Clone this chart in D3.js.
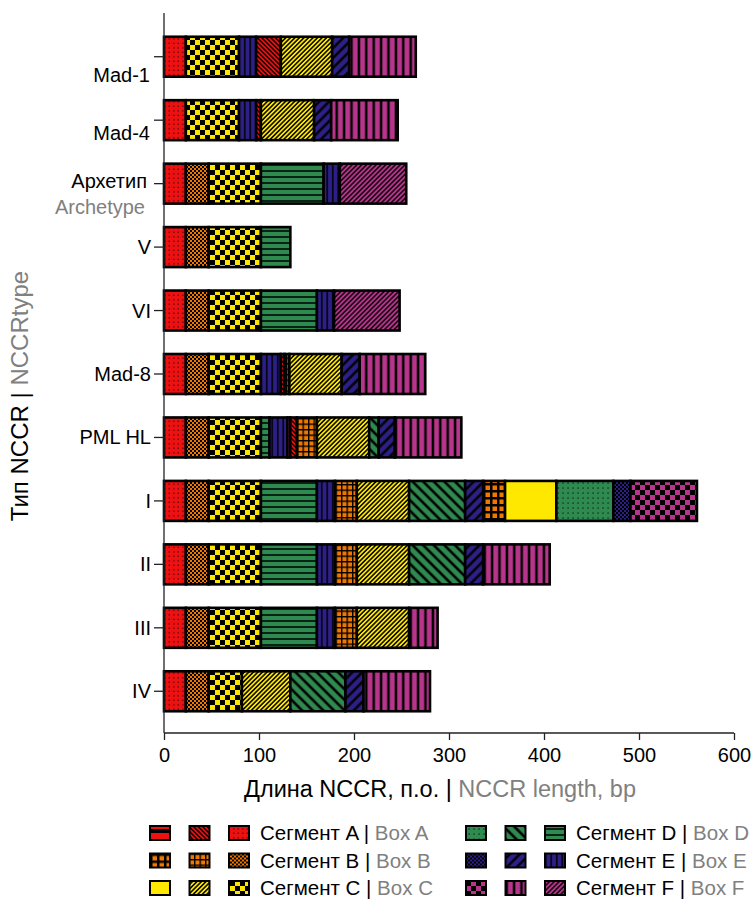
<!DOCTYPE html>
<html>
<head>
<meta charset="utf-8">
<script src="https://cdn.jsdelivr.net/npm/d3@7"></script>
<style>
  body { margin: 0; background: #fff; }
  svg { font-family: "Liberation Sans", Arial, sans-serif; }
</style>
</head>
<body>
<svg id="chart" width="753" height="901"></svg>
<script>
// ---------- DATA ----------
const categories = ["Mad-1", "Mad-4", "Архетип", "V", "VI", "Mad-8", "PML HL", "I", "II", "III", "IV"];

// each segment: [pattern key, length in bp]
const segMad1   = [["A3",23],["C3",56],["E3",18],["A2",26],["C2",54],["E2",18],["F2",70]];
const segMad4   = [["A3",23],["C3",56],["E3",18],["A2",5],["C2",56],["E2",18],["F2",70]];
const segArch   = [["A3",23],["B3",24],["C3",55],["D3",66],["E3",17],["F3",70]];
const segV      = [["A3",23],["B3",24],["C3",55],["D3",31]];
const segVI     = [["A3",23],["B3",24],["C3",55],["D3",59],["E3",18],["F3",69]];
const segMad8   = [["A3",23],["B3",24],["C3",55],["E3",21],["A2",4],["B2",5],["C2",55],["E2",19],["F2",69]];
const segPML    = [["A3",23],["B3",24],["C3",55],["D3",9],["E3",19],["F2",3],["A2",7],["B2",21],["C2",55],["D2",10],["E2",17],["F2",70]];
const segI      = [["A3",23],["B3",24],["C3",55],["D3",59],["E3",19],["B2",23],["C2",55],["D2",59],["E2",19],["B1",23],["C1",54],["D1",60],["E1",18],["F1",70]];
const segII     = [["A3",23],["B3",24],["C3",55],["D3",59],["E3",19],["B2",23],["C2",55],["D2",59],["E2",19],["F2",70]];
const segIII    = [["A3",23],["B3",24],["C3",55],["D3",59],["E3",19],["B2",23],["C2",55],["F2",30]];
const segIV     = [["A3",23],["B3",24],["C3",35],["C2",51],["D2",58],["E2",19],["F2",70]];
const segments  = [segMad1, segMad4, segArch, segV, segVI, segMad8, segPML, segI, segII, segIII, segIV];

const xTicks = [0, 100, 200, 300, 400, 500, 600];
const boxes = ["A", "B", "C", "D", "E", "F"];
const legendRu = ["Сегмент A", "Сегмент B", "Сегмент C", "Сегмент D", "Сегмент E", "Сегмент F"];
const legendEn = ["Box A", "Box B", "Box C", "Box D", "Box E", "Box F"];

// ---------- STYLE ----------
const boxColor = { A: "#ee1111", B: "#f07800", C: "#ffe800", D: "#2f8a50", E: "#2c1f86", F: "#b8358c" };
const patternSpec = {
  A1: { kind: "hlines", s: 10, w: 4 },
  A2: { kind: "diagDown", s: 3.2, w: 1.4 },
  A3: { kind: "dots", s: 4.5, w: 1.1 },
  B1: { kind: "grid", s: 7, w: 2.5 },
  B2: { kind: "grid", s: 5.5, w: 1.4 },
  B3: { kind: "fineCheck", s: 2 },
  C1: { kind: "solid" },
  C2: { kind: "diagUp", s: 3.2, w: 1.5 },
  C3: { kind: "check", s: 5 },
  D1: { kind: "dots", s: 5, w: 1.1 },
  D2: { kind: "diagDown", s: 7.5, w: 2.6 },
  D3: { kind: "hlines", s: 6, w: 1.5 },
  E1: { kind: "fineCheck", s: 2 },
  E2: { kind: "diagUp", s: 7, w: 2.4 },
  E3: { kind: "vlines", s: 5.5, w: 1.5 },
  F1: { kind: "check", s: 5 },
  F2: { kind: "vlines", s: 7.4, w: 2.5 },
  F3: { kind: "diagUp", s: 3.4, w: 1.4 }
};
const FONT = "Liberation Sans, Arial, sans-serif";
const GRAY = "#808080";

const svg = d3.select("#chart");
svg.append("rect").attr("width", 753).attr("height", 901).attr("fill", "#fff");
const defs = svg.append("defs");

Object.entries(patternSpec).forEach(([key, spec]) => {
  const col = boxColor[key[0]];
  const id = "pat-" + key;
  let p;
  const s = spec.s || 4;
  const mk = (w, h) => defs.append("pattern").attr("id", id).attr("patternUnits", "userSpaceOnUse").attr("width", w).attr("height", h);
  if (spec.kind === "solid") {
    p = mk(4, 4);
    p.append("rect").attr("width", 4).attr("height", 4).attr("fill", col);
  } else if (spec.kind === "dots") {
    p = mk(s, s);
    p.append("rect").attr("width", s).attr("height", s).attr("fill", col);
    p.append("rect").attr("x", s / 2).attr("y", s / 2).attr("width", spec.w).attr("height", spec.w).attr("fill", "#000");
  } else if (spec.kind === "fineCheck" || spec.kind === "check") {
    p = mk(2 * s, 2 * s);
    p.append("rect").attr("width", 2 * s).attr("height", 2 * s).attr("fill", col);
    p.append("rect").attr("x", 0).attr("y", 0).attr("width", s).attr("height", s).attr("fill", "#000");
    p.append("rect").attr("x", s).attr("y", s).attr("width", s).attr("height", s).attr("fill", "#000");
  } else if (spec.kind === "hlines") {
    p = mk(s, s);
    p.append("rect").attr("width", s).attr("height", s).attr("fill", col);
    p.append("rect").attr("y", (s - spec.w) / 2).attr("width", s).attr("height", spec.w).attr("fill", "#000");
  } else if (spec.kind === "vlines" || spec.kind === "diagUp" || spec.kind === "diagDown") {
    p = mk(s, s);
    if (spec.kind === "diagUp") p.attr("patternTransform", "rotate(45)");
    if (spec.kind === "diagDown") p.attr("patternTransform", "rotate(-45)");
    p.append("rect").attr("width", s).attr("height", s).attr("fill", col);
    p.append("rect").attr("x", (s - spec.w) / 2).attr("width", spec.w).attr("height", s).attr("fill", "#000");
  } else if (spec.kind === "grid") {
    p = mk(s, s);
    p.append("rect").attr("width", s).attr("height", s).attr("fill", col);
    p.append("rect").attr("x", 0).attr("width", spec.w).attr("height", s).attr("fill", "#000");
    p.append("rect").attr("y", 0).attr("width", s).attr("height", spec.w).attr("fill", "#000");
  }
});

// ---------- SCALES ----------
const x = d3.scaleLinear().domain([0, 600]).range([164, 734]);
const y = d3.scaleBand().domain(categories).range([25, 723]).paddingInner(0.37).paddingOuter(0.185);

// ---------- BARS ----------
const rows = categories.map((c, i) => {
  let acc = 0;
  return segments[i].map(([key, len]) => {
    const s = { cat: c, key, x0: acc, x1: acc + len };
    acc += len;
    return s;
  });
});

const barG = svg.append("g");
rows.forEach(row => {
  barG.selectAll(null).data(row).enter().append("rect")
    .attr("x", d => x(d.x0))
    .attr("y", d => y(d.cat))
    .attr("width", d => x(d.x1) - x(d.x0))
    .attr("height", y.bandwidth())
    .attr("fill", d => `url(#pat-${d.key})`)
    .attr("stroke", "#000")
    .attr("stroke-width", 2.6);
});

// ---------- AXES ----------
const xAxis = svg.append("g").attr("transform", "translate(0,733)")
  .call(d3.axisBottom(x).tickValues(xTicks).tickSize(7).tickSizeOuter(0).tickPadding(8));
xAxis.select(".domain").remove();
xAxis.selectAll(".tick line").attr("stroke", "#222").attr("stroke-width", 1.3);
xAxis.selectAll(".tick text").attr("font-size", 20).attr("fill", "#000").attr("font-family", FONT);
svg.append("line").attr("x1", 164).attr("x2", 734).attr("y1", 733).attr("y2", 733)
  .attr("stroke", "#222").attr("stroke-width", 1.3);

const yAxis = svg.append("g").attr("transform", "translate(164,0)")
  .call(d3.axisLeft(y).tickSize(10).tickSizeOuter(0).tickPadding(4));
yAxis.select(".domain").remove();
yAxis.selectAll(".tick line").attr("stroke", "#222").attr("stroke-width", 1.3);
const labelShift = { "Mad-1": 18, "Mad-4": 13, "Архетип": -3 };
yAxis.selectAll(".tick text")
  .attr("font-size", 20).attr("fill", "#000").attr("font-family", FONT)
  .attr("dy", d => (0.35 * 20 + (labelShift[d] || 0)) + "px")
  .attr("x", d => (d === "Архетип" ? -17 : (d === "Mad-1" || d === "Mad-4" ? -14 : -13)));
yAxis.selectAll(".tick").filter(d => d === "Архетип").append("text")
  .attr("x", -19).attr("dy", "30px").attr("text-anchor", "end")
  .attr("font-size", 20).attr("fill", GRAY).attr("font-family", FONT)
  .text("Archetype");
svg.append("line").attr("x1", 164).attr("x2", 164).attr("y1", 13).attr("y2", 733)
  .attr("stroke", "#222").attr("stroke-width", 1.3);

// ---------- TITLES ----------
const xt = svg.append("text").attr("x", 440).attr("y", 797).attr("text-anchor", "middle").attr("font-size", 23.5);
xt.append("tspan").attr("fill", "#000").text("Длина NCCR, п.о. | ");
xt.append("tspan").attr("fill", GRAY).text("NCCR length, bp");

const yt = svg.append("text").attr("transform", "translate(28,396) rotate(-90)").attr("text-anchor", "middle").attr("font-size", 24);
yt.append("tspan").attr("fill", "#000").text("Тип NCCR | ");
yt.append("tspan").attr("fill", GRAY).text("NCCRtype");

// ---------- LEGEND ----------
const legend = svg.append("g");
boxes.forEach((b, i) => {
  const col = Math.floor(i / 3), row = i % 3;
  const gx = 150 + col * 316, gy = 826 + row * 27.5;
  const g = legend.append("g").attr("transform", `translate(${gx},${gy})`);
  [1, 2, 3].forEach((k, j) => {
    g.append("rect").attr("x", j * 39.5).attr("y", 0).attr("width", 20).attr("height", 14)
      .attr("fill", `url(#pat-${b}${k})`).attr("stroke", "#000").attr("stroke-width", 2);
  });
  const t = g.append("text").attr("x", 110).attr("y", 14).attr("font-size", 20.5);
  t.append("tspan").attr("fill", "#000").text(legendRu[i] + " | ");
  t.append("tspan").attr("fill", GRAY).text(legendEn[i]);
});
</script>
</body>
</html>
